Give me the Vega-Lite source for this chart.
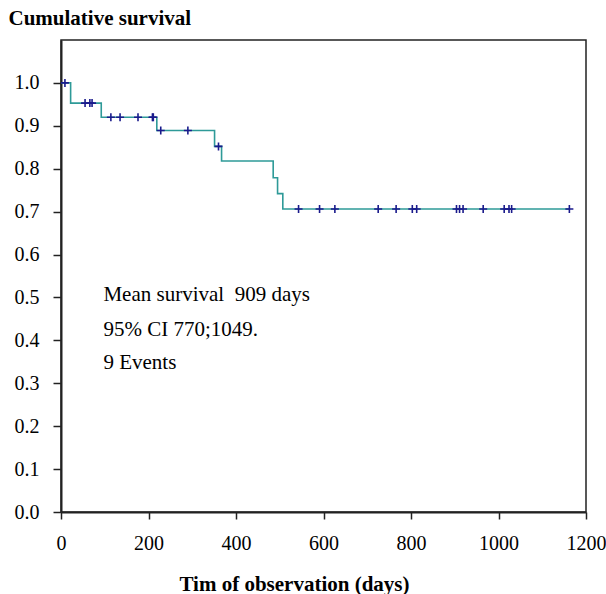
{
  "$schema": "https://vega.github.io/schema/vega-lite/v6.json",
  "width": 525,
  "height": 472,
  "autosize": {"type": "none"},
  "padding": {"left": 61, "top": 40, "right": 20, "bottom": 82},
  "background": "white",
  "config": {
    "view": {"stroke": "#222222", "strokeWidth": 1.5},
    "font": "Liberation Serif"
  },
  "datasets": {
    "steps": [
      {"time": 0, "surv": 1.0},
      {"time": 22, "surv": 0.953},
      {"time": 92, "surv": 0.92},
      {"time": 219, "surv": 0.889},
      {"time": 351, "surv": 0.852},
      {"time": 367, "surv": 0.818},
      {"time": 485, "surv": 0.779},
      {"time": 495, "surv": 0.742},
      {"time": 507, "surv": 0.706},
      {"time": 1162, "surv": 0.706}
    ],
    "censored": [
      {"time": 9, "surv": 1.0},
      {"time": 55, "surv": 0.953},
      {"time": 66, "surv": 0.953},
      {"time": 71, "surv": 0.953},
      {"time": 114, "surv": 0.92},
      {"time": 135, "surv": 0.92},
      {"time": 176, "surv": 0.92},
      {"time": 209, "surv": 0.92},
      {"time": 211, "surv": 0.92},
      {"time": 228, "surv": 0.889},
      {"time": 290, "surv": 0.889},
      {"time": 360, "surv": 0.852},
      {"time": 543, "surv": 0.706},
      {"time": 591, "surv": 0.706},
      {"time": 626, "surv": 0.706},
      {"time": 725, "surv": 0.706},
      {"time": 766, "surv": 0.706},
      {"time": 803, "surv": 0.706},
      {"time": 813, "surv": 0.706},
      {"time": 904, "surv": 0.706},
      {"time": 911, "surv": 0.706},
      {"time": 919, "surv": 0.706},
      {"time": 965, "surv": 0.706},
      {"time": 1013, "surv": 0.706},
      {"time": 1024, "surv": 0.706},
      {"time": 1030, "surv": 0.706},
      {"time": 1162, "surv": 0.706}
    ],
    "notes": [
      {"time": 97, "surv": 0.492, "label": "Mean survival\u00a0 909 days"},
      {"time": 97, "surv": 0.41, "label": "95% CI 770;1049."},
      {"time": 97, "surv": 0.333, "label": "9 Events"}
    ]
  },
  "layer": [
    {
      "data": {"name": "steps"},
      "mark": {"type": "line", "interpolate": "step-after", "color": "#2e9a98", "strokeWidth": 1.6},
      "encoding": {
        "x": {
          "field": "time", "type": "quantitative",
          "scale": {"domain": [0, 1200], "nice": false, "zero": false},
          "axis": {
            "values": [0, 200, 400, 600, 800, 1000, 1200],
            "format": "d",
            "grid": false,
            "title": "Tim of observation (days)",
            "titleFont": "Liberation Serif", "titleFontSize": 21, "titleFontWeight": "bold", "titleColor": "#000000",
            "titleX": 233, "titleY": 78, "titleAlign": "center", "titleBaseline": "alphabetic",
            "labelFont": "Liberation Serif", "labelFontSize": 20, "labelColor": "#000000",
            "labelPadding": 14, "tickSize": 7, "tickColor": "#222222", "tickWidth": 1.5,
            "domainColor": "#222222", "domainWidth": 2, "labelFlush": false
          }
        },
        "y": {
          "field": "surv", "type": "quantitative",
          "scale": {"domain": [0, 1.1], "nice": false, "zero": false},
          "axis": {
            "values": [0, 0.1, 0.2, 0.3, 0.4, 0.5, 0.6, 0.7, 0.8, 0.9, 1.0],
            "format": ".1f",
            "grid": false,
            "title": "Cumulative survival",
            "titleFont": "Liberation Serif", "titleFontSize": 21, "titleFontWeight": "bold", "titleColor": "#000000",
            "titleAngle": 0, "titleAlign": "left", "titleBaseline": "alphabetic",
            "titleX": -53, "titleY": -16,
            "labelFont": "Liberation Serif", "labelFontSize": 20, "labelColor": "#000000",
            "labelPadding": 14, "tickSize": 8, "tickColor": "#222222", "tickWidth": 1.5,
            "domainColor": "#222222", "domainWidth": 2, "labelFlush": false
          }
        }
      }
    },
    {
      "data": {"name": "censored"},
      "mark": {"type": "point", "shape": "M-1,0L1,0M0,-1L0,1", "filled": false, "stroke": "#1a1a8c", "strokeWidth": 1.6, "size": 64, "opacity": 1},
      "encoding": {
        "x": {"field": "time", "type": "quantitative"},
        "y": {"field": "surv", "type": "quantitative"}
      }
    },
    {
      "data": {"name": "notes"},
      "mark": {"type": "text", "align": "left", "baseline": "alphabetic", "font": "Liberation Serif", "fontSize": 21, "color": "#000000"},
      "encoding": {
        "x": {"field": "time", "type": "quantitative"},
        "y": {"field": "surv", "type": "quantitative"},
        "text": {"field": "label"}
      }
    }
  ]
}
